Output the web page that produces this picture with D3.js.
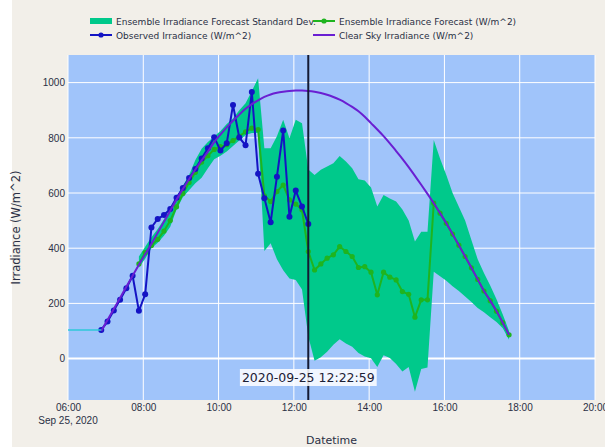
<!DOCTYPE html>
<html>
<head>
<meta charset="utf-8">
<script src="https://cdn.jsdelivr.net/npm/d3@7"></script>
<style>
  body { margin:0; background:#fff; }
  svg { display:block; font-family:"DejaVu Sans", Verdana, sans-serif; }
</style>
</head>
<body>
<svg id="chart"></svg>
<script>
// 10-minute steps, Sep 25 2020
var times = ["06:53","07:03","07:13","07:23","07:33","07:43","07:53","08:03","08:13","08:23",
  "08:33","08:43","08:53","09:03","09:13","09:23","09:33","09:43","09:53","10:03",
  "10:13","10:23","10:33","10:43","10:53","11:03","11:13","11:23","11:33","11:43",
  "11:53","12:03","12:13","12:23","12:33","12:43","12:53","13:03","13:13","13:23",
  "13:33","13:43","13:53","14:03","14:13","14:23","14:33","14:43","14:53","15:03",
  "15:13","15:23","15:33","15:43","15:53","16:03","16:13","16:23","16:33","16:43",
  "16:53","17:03","17:13","17:23","17:33","17:43"]

var observed = [104,134,174,213,255,300,173,233,475,506,
  520,542,583,618,654,687,725,762,802,754,
  780,919,801,773,966,670,581,494,659,826,
  514,609,551,488]

var forecast = [null,null,null,null,null,null,343,384,410,432,
  462,500,550,598,638,675,712,735,758,768,
  775,790,805,822,835,830,590,569,605,629,
  575,560,539,388,321,343,364,376,406,388,
  370,330,333,313,231,313,295,285,243,233,
  150,213,213,563,527,490,451,411,370,329,
  287,245,210,172,130,86]

var upper = [null,null,null,null,null,null,370,405,440,470,
  505,545,585,625,665,720,760,785,805,825,
  850,870,900,925,970,1016,762,762,806,865,
  798,865,853,685,665,684,696,708,734,714,
  690,650,645,620,551,593,580,569,540,500,
  424,460,460,792,725,665,600,550,500,430,
  360,310,265,215,160,100]

var lower = [null,null,null,null,null,null,330,362,400,420,
  445,478,540,585,610,635,655,690,722,735,
  750,770,790,810,817,817,390,418,360,320,
  290,285,250,80,-8,5,25,50,70,55,
  43,20,8,1,-30,12,2,-20,-47,-30,
  -120,-38,-32,315,298,282,262,245,225,205,
  183,168,150,133,110,68]

var clearSky = [100,140,180,220,260,300,340,378,416,456,
  496,536,576,614,650,685,718,750,784,812,
  838,862,884,905,922,936,948,957,963,967,
  970,971,971,970,967,962,956,948,938,926,
  912,896,876,853,830,806,780,752,724,694,
  662,630,597,563,527,490,451,411,370,329,
  287,245,210,172,130,86]

// flat segment before the first observation
var earlyTimes = ["06:00","06:53"]
var earlyValues = [104,104]

var nowTime = "12:22:59"
var yTicks = [0,200,400,600,800,1000]
var legendNames = ["Ensemble Irradiance Forecast Standard Dev.","Ensemble Irradiance Forecast (W/m^2)",
  "Observed Irradiance (W/m^2)","Clear Sky Irradiance (W/m^2)"]

var screen = {width:605, height:447}
var plot = {left:68, right:595, top:55, bottom:400}
var colors = {band:"#00c98b", fc:"#1fb41f", obs:"#1414c4", clear:"#6a1fd2", early:"#2ec8d8",
  plotBg:"#a0c4fa", paper:"#f2efe9"}

var parse = d3.timeParse("%Y-%m-%d %H:%M")
var parseS = d3.timeParse("%Y-%m-%d %H:%M:%S")
var day = "2020-09-25 "
var dates = times.map(function(t){ return parse(day+t) })

var svg = d3.select("#chart").attr("width",screen.width).attr("height",screen.height)

svg.append("rect").attr("x",12).attr("y",0).attr("width",screen.width-12).attr("height",screen.height)
  .attr("fill",colors.paper)

var xScale = d3.scaleTime()
  .domain([parse(day+"06:00"), parse(day+"20:00")])
  .range([plot.left, plot.right])
var yScale = d3.scaleLinear()
  .domain([-150,1100])
  .range([plot.bottom, plot.top])

svg.append("rect").attr("x",plot.left).attr("y",plot.top)
  .attr("width",plot.right-plot.left).attr("height",plot.bottom-plot.top)
  .attr("fill",colors.plotBg)

var xTicks = d3.timeHour.every(2).range(parse(day+"06:00"), parse(day+"20:01"))

// grid
var grid = svg.append("g")
grid.selectAll(".vg").data(xTicks).enter().append("line")
  .attr("x1",function(d){ return xScale(d) }).attr("x2",function(d){ return xScale(d) })
  .attr("y1",plot.top).attr("y2",plot.bottom)
  .attr("stroke","#fff").attr("stroke-width",1)
grid.selectAll(".hg").data(yTicks).enter().append("line")
  .attr("x1",plot.left).attr("x2",plot.right)
  .attr("y1",function(d){ return yScale(d) }).attr("y2",function(d){ return yScale(d) })
  .attr("stroke","#fff").attr("stroke-width",function(d){ return d==0 ? 2 : 1 })

// axes
var xAxis = d3.axisBottom(xScale).tickValues(xTicks).tickSize(0).tickPadding(4)
  .tickFormat(d3.timeFormat("%H:%M"))
var gx = svg.append("g").attr("transform","translate(0,"+plot.bottom+")").call(xAxis)
gx.select(".domain").remove()
gx.selectAll("text").attr("font-size",10).attr("fill","#2a2f45").attr("font-family",null)
gx.append("text").attr("x",xScale(xTicks[0])).attr("y",24).attr("text-anchor","middle")
  .attr("font-size",10).attr("fill","#2a2f45").text("Sep 25, 2020")

var yAxis = d3.axisLeft(yScale).tickValues(yTicks).tickSize(0).tickPadding(3).tickFormat(d3.format("d"))
var gy = svg.append("g").attr("transform","translate("+plot.left+",0)").call(yAxis)
gy.select(".domain").remove()
gy.selectAll("text").attr("font-size",10).attr("fill","#2a2f45").attr("font-family",null)

svg.append("text").attr("x",(plot.left+plot.right)/2).attr("y",444)
  .attr("text-anchor","middle").attr("font-size",11).attr("fill","#2a2f45").text("Datetime")
svg.append("text").attr("transform","translate(20,"+((plot.top+plot.bottom)/2)+") rotate(-90)")
  .attr("text-anchor","middle").attr("font-size",11.5).attr("fill","#2a2f45").text("Irradiance (W/m^2)")

var g = svg.append("g")

// std dev band
var bandIdx = d3.range(times.length).filter(function(i){ return upper[i] != null })
var area = d3.area()
  .x(function(i){ return xScale(dates[i]) })
  .y0(function(i){ return yScale(lower[i]) })
  .y1(function(i){ return yScale(upper[i]) })
g.append("path").datum(bandIdx).attr("d",area).attr("fill",colors.band)

var drawSeries = function(values, color, width, r){
  var idx = d3.range(values.length).filter(function(i){ return values[i] != null })
  var line = d3.line().x(function(i){ return xScale(dates[i]) }).y(function(i){ return yScale(values[i]) })
  g.append("path").datum(idx).attr("d",line).attr("fill","none")
    .attr("stroke",color).attr("stroke-width",width).attr("stroke-linejoin","round")
  if (r > 0) {
    g.selectAll(null).data(idx).enter().append("circle")
      .attr("cx",function(i){ return xScale(dates[i]) })
      .attr("cy",function(i){ return yScale(values[i]) })
      .attr("r",r).attr("fill",color)
  }
}

drawSeries(forecast, colors.fc, 2, 2.6)
drawSeries(observed, colors.obs, 2, 3)

var clearLine = d3.line().curve(d3.curveMonotoneX)
  .x(function(d,i){ return xScale(dates[i]) }).y(function(d){ return yScale(d) })
g.append("path").datum(clearSky).attr("d",clearLine).attr("fill","none")
  .attr("stroke",colors.clear).attr("stroke-width",2)

var earlyLine = d3.line().x(function(d,i){ return xScale(parse(day+earlyTimes[i])) })
  .y(function(d){ return yScale(d) })
g.append("path").datum(earlyValues).attr("d",earlyLine).attr("fill","none")
  .attr("stroke",colors.early).attr("stroke-width",1.5)

// current time marker
var nowX = xScale(parseS(day+nowTime))
svg.append("line").attr("x1",nowX).attr("x2",nowX).attr("y1",plot.top).attr("y2",plot.bottom)
  .attr("stroke","#141a33").attr("stroke-width",2)

var note = svg.append("g")
var noteText = note.append("text").attr("x",nowX).attr("y",382).attr("text-anchor","middle")
  .attr("font-size",12.5).attr("fill","#1c2035").text("2020-09-25 " + nowTime)
var bb = noteText.node().getBBox()
note.insert("rect","text").attr("x",bb.x-2).attr("y",bb.y-1).attr("width",bb.width+4).attr("height",bb.height+2)
  .attr("fill","#fff").attr("fill-opacity",0.85)

// legend
var legendPos = [{x:90,y:21},{x:313,y:21},{x:90,y:35},{x:313,y:35}]
var lg = svg.append("g").attr("font-size",9).attr("fill","#2a2f45")
legendNames.forEach(function(name, i){
  var p = legendPos[i]
  if (i == 0) {
    lg.append("rect").attr("x",p.x).attr("y",p.y-3).attr("width",22).attr("height",6).attr("fill",colors.band)
  } else {
    var c = [null, colors.fc, colors.obs, colors.clear][i]
    lg.append("line").attr("x1",p.x).attr("x2",p.x+22).attr("y1",p.y).attr("y2",p.y)
      .attr("stroke",c).attr("stroke-width",2)
    if (i < 3) lg.append("circle").attr("cx",p.x+11).attr("cy",p.y).attr("r",2.6).attr("fill",c)
  }
  lg.append("text").attr("x",p.x+26).attr("y",p.y+3.5).text(name)
})
</script>
</body>
</html>
